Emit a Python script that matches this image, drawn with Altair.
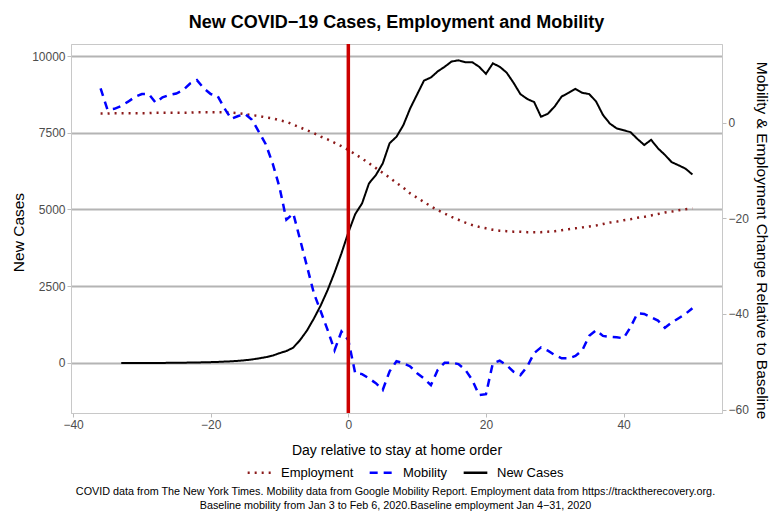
import altair as alt
import pandas as pd

# ---------------- data ----------------
mob_days = list(range(-36, 51))
mobility = [7.2, 2.7, 2.9, 3.5, 4.4, 5.4, 6.0, 6.0, 4.2, 5.3,
            5.8, 6.1, 6.8, 8.2, 8.9, 7.2, 6.0, 5.6, 3.0, 0.8,
            1.4, 1.8, 0.6,
            -1.9, -4.5, -8.5, -13.5, -20.3, -19.0, -24.5, -30.1, -35.7, -39.5,
            -43.4, -47.6, -43.7, -45.5,
            -52.4, -52.6, -53.5, -54.5, -55.9, -52.0,
            -49.9, -50.3, -51.0, -52.4, -53.5, -54.9, -51.7, -50.2, -50.2, -50.5,
            -51.7, -53.8, -57.0, -56.8, -50.3, -49.8, -50.7, -52.1, -52.8, -51.0,
            -48.2, -47.0, -47.7, -48.6, -49.3, -49.3, -48.8, -47.6, -44.6, -43.4,
            -44.6, -44.8, -44.9, -45.1, -42.8, -39.9, -40.0, -40.7, -41.4, -42.9,
            -41.8, -40.9, -40.0, -38.8]

emp_days = list(range(-36, 51))
employment = [1.9, 1.9, 2.0, 2.0, 2.0, 2.0, 2.0, 2.0, 2.1, 2.1, 2.1, 2.1, 2.1, 2.1, 2.2, 2.2, 2.2,
              2.2, 2.2, 2.1, 2.0, 1.8, 1.6, 1.4, 1.1, 0.9, 0.5, 0.2, -0.4, -1.0, -1.6, -2.2, -2.9,
              -3.5, -4.2, -4.9, -5.7,
              -6.6, -7.5, -8.5, -9.5, -10.5, -11.5, -12.6, -13.6, -14.8, -15.7,
              -16.6, -17.5, -18.3, -19.0, -19.7, -20.3, -20.9, -21.4, -21.8, -22.1,
              -22.4, -22.6, -22.7, -22.8, -22.8, -22.9, -22.9, -22.9, -22.8, -22.7,
              -22.5, -22.3, -22.1, -21.9, -21.7, -21.5, -21.2, -20.9, -20.7, -20.4,
              -20.2, -19.9, -19.7, -19.4, -19.1, -18.8, -18.6, -18.3, -18.1, -17.9]

case_days = list(range(-33, 51))
new_cases = [0, 0, 0, 0, 1, 2, 3, 5, 7, 10, 14, 18, 22, 28,
             35, 45, 55, 70, 90, 115, 150, 190, 240, 320, 390, 500, 750, 1060, 1450, 1880,
             2380, 2950, 3570,
             4250, 4850, 5200, 5850, 6120, 6500, 7160, 7370, 7750, 8300,
             8750, 9200, 9300, 9500, 9650, 9820, 9860, 9800, 9800, 9650,
             9420, 9760, 9650, 9460, 9130, 8760, 8600, 8500, 8020, 8120,
             8360, 8680, 8800, 8930, 8800, 8760, 8520, 8080, 7800, 7640,
             7580, 7520, 7300, 7100, 7270, 6990, 6780, 6540, 6440, 6330, 6140]

series_names = ["Employment", "Mobility", "New Cases"]
series_colors = ["#8B1A1A", "#0000FF", "#000000"]
series_dashes = [[2, 5], [8, 6], [1, 0]]

x_ticks = [-40, -20, 0, 20, 40]
left_ticks = [0, 2500, 5000, 7500, 10000]
right_ticks = [-60, -40, -20, 0]

title_text = "New COVID\u221219 Cases, Employment and Mobility"
caption_text = ("COVID data from The New York Times. Mobility data from Google Mobility Report. "
                "Employment data from https://tracktherecovery.org.\n"
                "Baseline mobility from Jan 3 to Feb 6, 2020.Baseline employment Jan 4\u221231, 2020")

# ---------------- tables ----------------
df_right = pd.concat([
    pd.DataFrame({"day": emp_days, "value": employment, "series": "Employment"}),
    pd.DataFrame({"day": mob_days, "value": mobility, "series": "Mobility"}),
])
df_cases = pd.DataFrame({"day": case_days, "value": new_cases, "series": "New Cases"})

W, H = 651, 369
FONT = "Liberation Sans"

x_enc = alt.X("day:Q", title="Day relative to stay at home order",
              scale=alt.Scale(domain=[-40.3, 54.3], nice=False, zero=False),
              axis=alt.Axis(values=x_ticks, format="d", grid=False, titlePadding=13))

color_enc = alt.Color("series:N", scale=alt.Scale(domain=series_names, range=series_colors),
                      legend=alt.Legend(title=None, orient="none", direction="horizontal",
                                        legendX=175, legendY=415,
                                        symbolType="stroke", symbolSize=560,
                                        symbolStrokeWidth=2.5, labelFontSize=13,
                                        labelColor="#000000", labelFont=FONT,
                                        labelOffset=8, columnPadding=10))
dash_enc = alt.StrokeDash("series:N", scale=alt.Scale(domain=series_names, range=series_dashes),
                          legend=None)

cases_line = alt.Chart(df_cases).mark_line(strokeWidth=2).encode(
    x=x_enc,
    y=alt.Y("value:Q", title="New Cases",
            scale=alt.Scale(domain=[-1629, 10391], nice=False, zero=False),
            axis=alt.Axis(values=left_ticks, format="d", grid=True, orient="left",
                          titlePadding=5, titleFontSize=15.5, titleY=188)),
    color=color_enc,
    strokeDash=dash_enc,
)

right_lines = alt.Chart(df_right).mark_line(strokeWidth=2.5).encode(
    x=x_enc,
    y=alt.Y("value:Q", title="Mobility & Employment Change Relative to Baseline",
            scale=alt.Scale(domain=[-60.73, 16.46], nice=False, zero=False),
            axis=alt.Axis(values=right_ticks, format="d", grid=False, orient="right",
                          titlePadding=5, titleFontSize=15.5, titleY=196)),
    color=color_enc,
    strokeDash=dash_enc,
    detail="series:N",
)

vline = alt.Chart(pd.DataFrame({"day": [0]})).mark_rule(color="#CC0000", strokeWidth=3.5).encode(
    x=alt.X("day:Q")
)

caption = alt.Chart(pd.DataFrame({"t": [caption_text]})).mark_text(
    align="center", baseline="top", fontSize=10.8, font=FONT, color="#000000",
    lineBreak="\n", lineHeight=14
).encode(text="t:N", x=alt.value(W / 2 - 1), y=alt.value(442))

chart = alt.layer(cases_line, right_lines, vline, caption).resolve_scale(
    y="independent"
).properties(
    width=W, height=H,
    autosize=alt.AutoSizeParams(type="none"),
    padding={"left": 63, "top": 36, "right": 50, "bottom": 104},
    title=alt.TitleParams(title_text, anchor="middle", frame="group", fontSize=18,
                          font=FONT, fontWeight="bold", color="#000000", offset=10),
).configure_view(
    stroke="#C8C8C8", strokeWidth=1
).configure_axis(
    labelFont=FONT, labelFontSize=12, labelColor="#4D4D4D",
    titleFont=FONT, titleFontSize=14, titleColor="#000000", titleFontWeight="normal",
    domainColor="#C8C8C8", tickColor="#BDBDBD", tickSize=4,
    gridColor="#B4B4B4", gridWidth=2,
)

chart.save("out.html", embed_options={"renderer": "svg", "actions": False})
